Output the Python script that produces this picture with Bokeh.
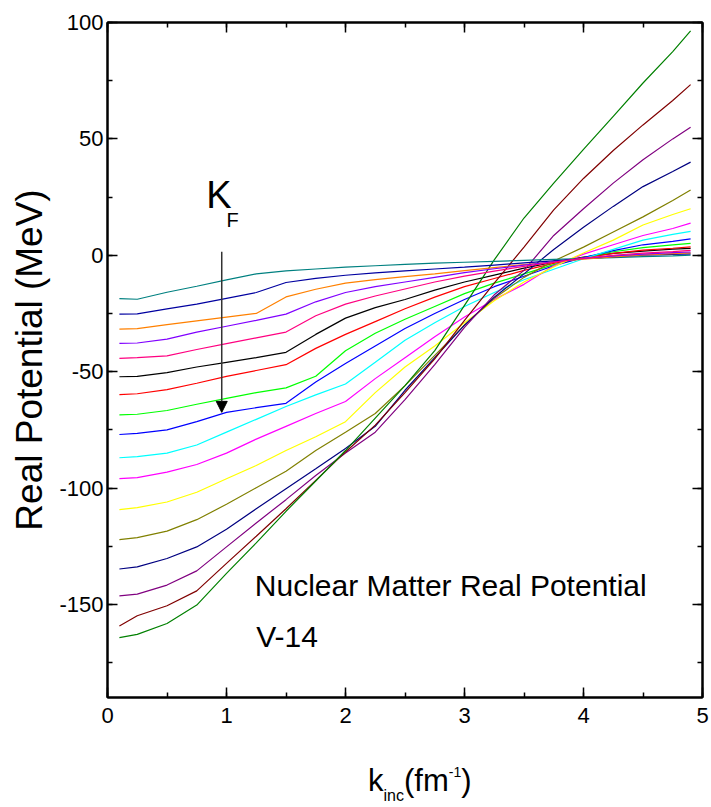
from bokeh.plotting import figure
from bokeh.layouts import column
from bokeh.models import (Range1d, LinearAxis, SingleIntervalTicker, Label,
                          Arrow, NormalHead, PrintfTickFormatter, Div)
from bokeh.embed import file_html
from bokeh.resources import INLINE

# incident momentum grid (fm^-1)
k_inc = [0.1, 0.25, 0.5, 0.75, 1.0, 1.25, 1.5, 1.75, 2.0, 2.25, 2.5,
         2.75, 3.0, 3.25, 3.5, 3.75, 4.0, 4.25, 4.5, 4.75, 4.9]

# real part of the nuclear matter potential (MeV), one curve per Fermi momentum
v_dark_cyan = [-18.6, -18.9, -15.9, -13.3, -10.6, -8.0, -6.7, -5.9, -5.1, -4.5, -3.9,
               -3.4, -3.0, -2.6, -2.2, -1.8, -1.4, -1.0, -0.6, -0.3, 0.1]
v_royal = [-25.3, -25.2, -23.0, -21.0, -18.5, -16.0, -11.7, -9.9, -8.6, -7.6, -6.7,
           -5.9, -5.1, -4.2, -3.3, -2.4, -1.5, -0.7, 0.0, 0.4, 0.6]
v_orange = [-31.7, -31.5, -29.8, -28.2, -26.6, -25.0, -17.9, -14.6, -12.0, -10.5, -9.2,
            -8.0, -6.6, -5.3, -4.0, -2.9, -1.7, -0.7, 0.2, 0.7, 1.0]
v_violet = [-37.9, -37.7, -36.0, -33.0, -30.5, -28.0, -25.3, -20.0, -16.0, -13.5, -11.5,
            -9.5, -7.5, -5.8, -4.2, -2.8, -1.4, -0.3, 0.5, 1.1, 1.4]
v_pink = [-44.3, -44.0, -43.2, -40.5, -38.0, -35.5, -33.0, -26.0, -21.0, -17.5, -14.5,
          -11.5, -9.0, -6.8, -4.8, -3.0, -1.2, 0.0, 0.9, 1.6, 2.1]
v_black = [-52.2, -52.0, -50.4, -48.0, -46.0, -44.0, -41.7, -34.0, -27.0, -22.5, -19.0,
           -15.0, -11.5, -8.5, -5.5, -3.0, -0.8, 0.8, 1.8, 2.6, 3.0]
v_red = [-59.9, -59.5, -57.7, -55.0, -52.0, -49.5, -47.0, -40.0, -34.0, -28.5, -23.0,
         -18.0, -13.5, -10.0, -6.5, -3.5, -1.0, 0.8, 2.2, 3.0, 3.6]
v_green = [-68.6, -68.3, -66.7, -64.0, -61.5, -59.0, -57.0, -52.0, -41.0, -33.5, -27.5,
           -22.0, -16.5, -12.0, -8.0, -4.0, -1.0, 1.5, 3.3, 4.5, 5.1]
v_blue = [-77.0, -76.5, -75.0, -71.5, -67.5, -65.5, -63.6, -54.5, -46.5, -39.0, -31.5,
          -25.0, -19.0, -13.5, -9.0, -4.5, -1.0, 2.0, 4.5, 6.0, 7.0]
v_cyan = [-87.0, -86.5, -85.0, -81.5, -76.0, -70.5, -65.0, -60.0, -55.3, -46.0, -36.5,
          -29.0, -22.0, -16.0, -10.5, -6.0, -1.5, 2.5, 6.5, 9.0, 10.3]
v_magenta = [-96.0, -95.5, -93.2, -89.9, -85.0, -79.0, -73.5, -68.0, -62.8, -53.0, -44.0,
             -35.0, -26.5, -19.0, -12.5, -4.5, 0.5, 4.5, 8.5, 11.5, 13.8]
v_yellow = [-109.3, -108.4, -106.0, -101.8, -96.0, -90.3, -83.9, -78.0, -71.5, -59.0, -48.0,
            -39.0, -29.0, -19.5, -11.5, -5.0, 1.0, 6.5, 13.0, 17.5, 20.0]
v_dark_yellow = [-122.2, -121.3, -118.5, -113.6, -107.0, -99.9, -92.8, -83.9, -76.0, -68.0, -56.0,
                 -43.0, -30.0, -18.5, -9.5, -2.5, 3.5, 10.0, 16.5, 23.5, 28.0]
v_navy = [-134.8, -133.9, -130.3, -125.3, -117.7, -108.9, -100.3, -91.7, -83.0, -73.5, -58.0,
          -44.0, -30.0, -18.0, -8.0, 2.5, 12.0, 21.0, 29.5, 36.0, 40.0]
v_purple = [-146.3, -145.6, -141.7, -135.6, -125.3, -115.0, -105.0, -94.6, -85.0, -76.0, -62.0,
            -47.0, -31.0, -17.0, -6.5, 8.5, 20.0, 31.0, 41.0, 50.0, 55.0]
v_wine = [-159.3, -154.9, -150.6, -144.2, -132.4, -120.7, -108.9, -96.7, -84.5, -73.0, -59.0,
          -44.5, -28.0, -12.0, 3.5, 19.5, 33.0, 45.0, 56.0, 66.5, 73.3]
v_olive = [-164.3, -162.9, -158.2, -150.3, -136.7, -123.6, -110.0, -97.0, -83.9, -70.0, -56.0,
           -41.0, -21.5, -2.0, 16.0, 31.0, 45.5, 59.7, 74.0, 87.5, 96.4]

curves = [
    (v_black, "#000000"), (v_red, "#FF0000"), (v_green, "#00FF00"),
    (v_blue, "#0000FF"), (v_cyan, "#00FFFF"), (v_magenta, "#FF00FF"),
    (v_yellow, "#FFFF00"), (v_dark_yellow, "#808000"), (v_navy, "#000080"),
    (v_purple, "#800080"), (v_wine, "#800000"), (v_olive, "#008000"),
    (v_dark_cyan, "#008080"), (v_royal, "#0000A0"), (v_orange, "#FF8000"),
    (v_violet, "#8000FF"), (v_pink, "#FF0080"),
]

FONT = "Liberation Sans"

p = figure(width=711, height=748, x_range=Range1d(0, 5), y_range=Range1d(-190, 100),
           output_backend="svg", toolbar_location=None,
           min_border_left=107, min_border_right=9, min_border_top=22,
           min_border_bottom=51)
p.xgrid.visible = False
p.ygrid.visible = False
p.background_fill_color = "white"
p.border_fill_color = "white"
p.outline_line_color = "black"
p.outline_line_width = 2

x_ticker = SingleIntervalTicker(interval=1, num_minor_ticks=2)
y_ticker = SingleIntervalTicker(interval=50, num_minor_ticks=2)


def style_axis(ax, show_labels):
    ax.axis_line_width = 2
    ax.axis_line_color = "black"
    ax.major_tick_in = 10
    ax.major_tick_out = 0
    ax.minor_tick_in = 5
    ax.minor_tick_out = 0
    ax.major_tick_line_width = 1.5
    ax.minor_tick_line_width = 1.5
    ax.major_tick_line_color = "black"
    ax.minor_tick_line_color = "black"
    if show_labels:
        ax.formatter = PrintfTickFormatter(format="%d")
        ax.major_label_text_font = FONT
        ax.major_label_text_font_size = "22px"
        ax.major_label_text_color = "black"
    else:
        # frame ticks only, no numbers
        ax.major_label_text_color = None
        ax.major_label_text_font_size = "1px"
        ax.major_label_standoff = 0


p.xaxis.ticker = x_ticker
p.yaxis.ticker = y_ticker
style_axis(p.xaxis[0], True)
style_axis(p.yaxis[0], True)
p.xaxis.major_label_standoff = 10
p.yaxis.major_label_standoff = 4

p.yaxis.axis_label = "Real Potential (MeV)"
p.yaxis.axis_label_text_font = FONT
p.yaxis.axis_label_text_font_size = "37px"
p.yaxis.axis_label_text_font_style = "normal"
p.yaxis.axis_label_text_color = "black"
p.yaxis.axis_label_standoff = 6

top_axis = LinearAxis(ticker=x_ticker)
style_axis(top_axis, False)
p.add_layout(top_axis, "above")
right_axis = LinearAxis(ticker=y_ticker)
style_axis(right_axis, False)
p.add_layout(right_axis, "right")

for vals, color in curves:
    p.line(k_inc, vals, line_color=color, line_width=1.2)

# Fermi momentum arrow and label
p.add_layout(Arrow(end=NormalHead(size=11, fill_color="black", line_color="black"),
                   x_start=0.96, y_start=1.5, x_end=0.96, y_end=-67.5,
                   line_color="#333333", line_width=1.5))
p.add_layout(Label(x=0.83, y=26.0, text="K", text_font=FONT, text_font_size="38px",
                   text_color="black", text_baseline="alphabetic"))
p.add_layout(Label(x=1.0, y=15.0, text="F", text_font=FONT, text_font_size="20px",
                   text_color="black", text_baseline="alphabetic"))

# panel caption
p.add_layout(Label(x=1.238, y=-142.0, text="Nuclear Matter Real Potential",
                   text_font=FONT, text_font_size="30px", text_color="black",
                   text_baseline="alphabetic"))
p.add_layout(Label(x=1.25, y=-163.8, text="V-14",
                   text_font=FONT, text_font_size="30px", text_color="black",
                   text_baseline="alphabetic"))

# x axis title with subscript and superscript, set as HTML under the plot
x_title = Div(
    text=('<div style="font-family:\'Liberation Sans\';font-size:31px;line-height:1;'
          'color:black;padding-left:363px;padding-top:12px;white-space:nowrap">'
          'k<sub style="font-size:16px;vertical-align:-10px">inc</sub>(fm'
          '<sup style="font-size:14px;vertical-align:14px">-1</sup>)</div>'),
    width=711, height=59)

layout = column(p, x_title, spacing=0)
open("out.html", "w").write(file_html(layout, INLINE))
